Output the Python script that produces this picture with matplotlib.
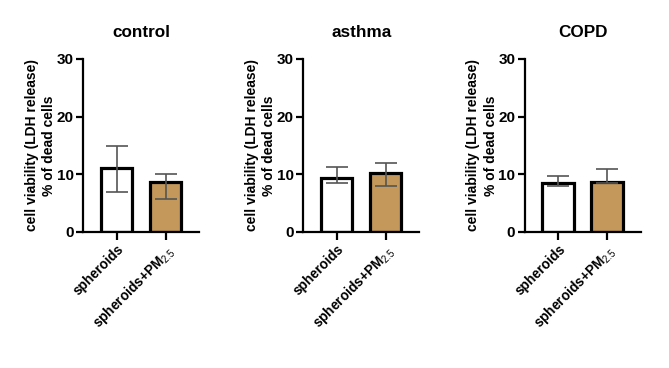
import matplotlib
matplotlib.use("Agg")
import matplotlib.pyplot as plt
import numpy as np

plt.rcParams['font.family'] = ['Liberation Sans', 'DejaVu Sans']
plt.rcParams['mathtext.fontset'] = 'custom'
plt.rcParams['mathtext.rm'] = 'Liberation Sans'
plt.rcParams['mathtext.it'] = 'Liberation Sans:italic'
plt.rcParams['mathtext.bf'] = 'Liberation Sans:bold'

groups = ["control", "asthma", "COPD"]
categories = ["spheroids", "spheroids+PM$_{\\mathrm{2.5}}$"]
means = {
    "control": [11.0, 8.55],
    "asthma": [9.35, 10.1],
    "COPD": [8.35, 8.65],
}
err_low = {
    "control": [4.1, 2.9],
    "asthma": [0.95, 2.2],
    "COPD": [0.45, 0.3],
}
err_high = {
    "control": [3.9, 1.5],
    "asthma": [1.85, 1.85],
    "COPD": [1.35, 2.15],
}
yticks = [0, 10, 20, 30]
bar_colors = ["#FFFFFF", "#C4975A"]

fig = plt.figure(figsize=(6.69, 3.68), dpi=100)
lefts = [83.3, 303.3, 525.0]
W, H = 669.0, 368.0
for i, g in enumerate(groups):
    ax = fig.add_axes([lefts[i] / W, (H - 231.5) / H, 116.0 / W, 172.5 / H])
    x = np.arange(len(categories))
    ax.bar(x, means[g], width=0.65, color=bar_colors, edgecolor='black',
           linewidth=2.3, zorder=2)
    ax.errorbar(x, means[g], yerr=[err_low[g], err_high[g]], fmt='none',
                ecolor='#555555', elinewidth=1.2, capsize=8, capthick=1.2, zorder=3)
    ax.set_xlim(-0.68, 1.69)
    ax.set_ylim(0, 30)
    ax.set_yticks(yticks)
    ax.set_yticklabels([str(t) for t in yticks], fontsize=11, fontweight='bold')
    ax.set_xticks(x)
    ax.set_xticklabels(categories, rotation=45, ha='right', rotation_mode='anchor',
                       fontsize=9.8, fontweight='bold')
    for s in ['top', 'right']:
        ax.spines[s].set_visible(False)
    for s in ['left', 'bottom']:
        ax.spines[s].set_linewidth(1.6)
    ax.tick_params(axis='both', width=1.6, length=5, pad=2)
    ax.tick_params(axis='x', length=6)
    ax.set_ylabel("cell viability (LDH release)\n% of dead cells", fontsize=10,
                  fontweight='bold', labelpad=0.5, linespacing=1.3)
    ax.set_title(g, fontsize=12.3, fontweight='bold', pad=16)

fig.savefig("out.png", dpi=100)
